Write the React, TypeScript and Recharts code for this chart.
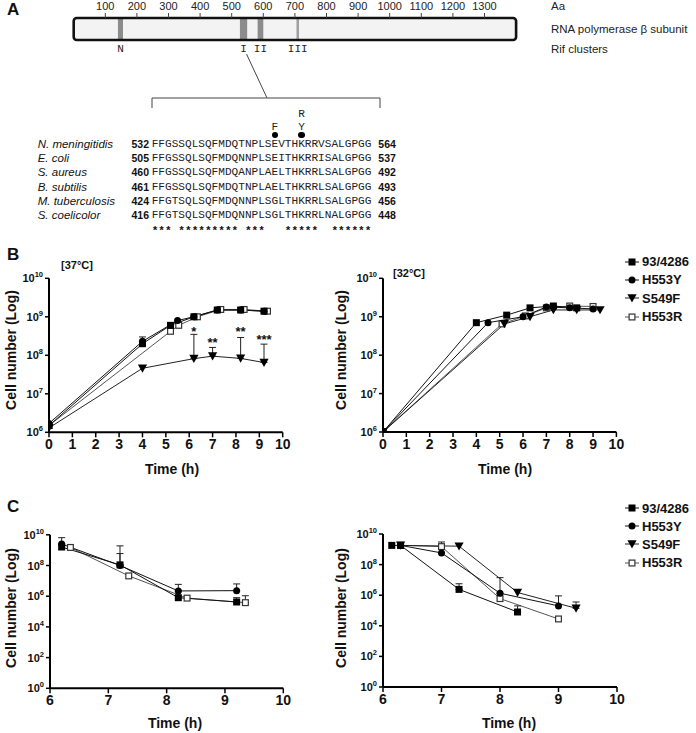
import React from 'react';
import { ComposedChart, Line, XAxis, YAxis, ErrorBar, ReferenceArea } from 'recharts';

const SANS = '"Liberation Sans", Arial, Helvetica, sans-serif';
const MONO = '"Liberation Mono", "Courier New", monospace';

// ---------- Panel A data ----------
const aaTicks = [100, 200, 300, 400, 500, 600, 700, 800, 900, 1000, 1100, 1200, 1300];
const proteinLength = 1400;
const clusterNames = ['N', 'I', 'II', 'III'];
const clusterStart = [140, 526, 582, 705];
const clusterEnd = [156, 549, 600, 713];
const clusterFill = ['#8c8c8c', '#8c8c8c', '#8c8c8c', '#a0a0a0'];

const speciesNames = ['N. meningitidis', 'E. coli', 'S. aureus', 'B. subtilis', 'M. tuberculosis', 'S. coelicolor'];
const seqStart = [532, 505, 460, 461, 424, 416];
const seqEnd = [564, 537, 492, 493, 456, 448];
const sequences = [
  'FFGSSQLSQFMDQTNPLSEVTHKRRVSALGPGG',
  'FFGSSQLSQFMDQNNPLSEITHKRRISALGPGG',
  'FFGSSQLSQFMDQANPLAELTHKRRLSALGPGG',
  'FFGSSQLSQFMDQTNPLAELTHKRRLSALGPGG',
  'FFGTSQLSQFMDQNNPLSGLTHKRRLSALGPGG',
  'FFGTSQLSQFMDQNNPLSGLTHKRRLNALGPGG',
];
const conservation = '*** ********* ***   *****  ******';
const mutationColumns = [18, 22];
const mutationLetters = [['F'], ['R', 'Y']];

// ---------- Panel B / C data ----------
const strains = ['93/4286', 'H553Y', 'S549F', 'H553R'];
type Shape = 'square' | 'circle' | 'triangle' | 'open';
const strainShapes: Shape[] = ['square', 'circle', 'triangle', 'open'];
const strainLine = ['#111', '#111', '#222', '#555'];

// B, 37°C
const b37Time93 = [0, 4, 5.2, 6.2, 7.2, 8.2, 9.2];
const b37Val93 = [1.5e6, 2e8, 6e8, 1e9, 1.5e9, 1.5e9, 1.4e9];
const b37TimeY = [0, 4, 5.5, 6.2, 7.2, 8.2, 9.2];
const b37ValY = [1.7e6, 2.3e8, 8e8, 1e9, 1.5e9, 1.5e9, 1.4e9];
const b37HiY = [null, 3e8, null, null, null, null, null];
const b37TimeF = [0, 4, 6.2, 7, 8.2, 9.2];
const b37ValF = [1.3e6, 4.6e7, 8.2e7, 9.5e7, 8.3e7, 6.5e7];
const b37HiF = [null, null, 3.5e8, 1.6e8, 2.9e8, 1.95e8];
const b37TimeR = [0, 5.2, 5.55, 6.35, 7.35, 8.35, 9.35];
const b37ValR = [1.5e6, 4.2e8, 6e8, 1e9, 1.55e9, 1.55e9, 1.4e9];
const b37SigTime = [6.2, 7, 8.2, 9.2];
const b37SigVal = [4.8e8, 2.5e8, 4.8e8, 3e8];
const b37SigText = ['*', '**', '**', '***'];

// B, 32°C
const b32Time93 = [0, 4, 5.3, 6.3, 7.3, 8.3];
const b32Val93 = [1e6, 7e8, 1.1e9, 1.7e9, 1.9e9, 1.7e9];
const b32TimeY = [0, 4.5, 6.0, 7.0, 8.0, 9.0];
const b32ValY = [1e6, 7e8, 1e9, 1.8e9, 1.7e9, 1.6e9];
const b32TimeF = [0, 5.2, 6.3, 7.3, 8.3, 9.3];
const b32ValF = [1e6, 6.5e8, 1e9, 1.5e9, 1.5e9, 1.5e9];
const b32TimeR = [0, 5.1, 6.1, 7.0, 8.0, 9.0];
const b32ValR = [1e6, 6.5e8, 1.05e9, 1.7e9, 1.9e9, 1.85e9];

// C, left
const c1Time93 = [6.2, 7.2, 8.2, 9.2];
const c1Val93 = [1.6e9, 1.1e8, 8e5, 4.2e5];
const c1Hi93 = [null, 6e8, null, 8e5];
const c1TimeY = [6.2, 7.2, 8.2, 9.2];
const c1ValY = [2.5e9, 1e8, 2.2e6, 2.3e6];
const c1HiY = [6.5e9, 1.9e9, 5.9e6, 6.3e6];
const c1TimeR = [6.35, 7.35, 8.35, 9.35];
const c1ValR = [1.5e9, 2.1e7, 7.5e5, 3.8e5];
const c1HiR = [null, null, null, 1.07e6];

// C, right
const c2Time93 = [6.15, 6.3, 7.3, 8.3];
const c2Val93 = [1.8e9, 1.8e9, 2.4e6, 8e4];
const c2Hi93 = [null, null, 5.6e6, 2e5];
const c2TimeY = [6.3, 7.0, 8.0, 9.0];
const c2ValY = [1.8e9, 5.8e8, 1.35e6, 2e5];
const c2HiY = [null, null, 1.4e7, 9e5];
const c2TimeF = [6.3, 7.3, 8.3, 9.3];
const c2ValF = [1.8e9, 1.6e9, 1.5e6, 1.4e5];
const c2HiF = [null, null, null, 3.6e5];
const c2TimeR = [6.3, 7.0, 8.0, 9.0];
const c2ValR = [1.8e9, 1.5e9, 6e5, 2.8e4];
const c2HiR = [null, 3e9, null, null];

const growthTicksX = [0, 1, 2, 3, 4, 5, 6, 7, 8, 9, 10];
const growthTicksY = [1e6, 1e7, 1e8, 1e9, 1e10];
const killTicksX = [6, 7, 8, 9, 10];
const killTicksY = [1, 1e2, 1e4, 1e6, 1e8, 1e10];

type Row = { x: number; y: number; err?: [number, number] };
const rows = (t: number[], v: number[], hi?: (number | null)[]): Row[] =>
  t.map((x, i) => {
    const h = hi ? hi[i] : null;
    return h != null ? { x, y: v[i], err: [0, h - v[i]] as [number, number] } : { x, y: v[i] };
  });

// ---------- drawing helpers ----------
function Marker({ shape, cx, cy }: { shape: Shape; cx: number; cy: number }) {
  const s = 7;
  const h = s / 2;
  if (shape === 'square') return <rect x={cx - h} y={cy - h} width={s} height={s} fill="#000" />;
  if (shape === 'circle') return <circle cx={cx} cy={cy} r={h} fill="#000" />;
  if (shape === 'triangle')
    return <polygon points={`${cx - 4.6},${cy - 3.8} ${cx + 4.6},${cy - 3.8} ${cx},${cy + 4.4}`} fill="#000" />;
  return <rect x={cx - h + 0.6} y={cy - h + 0.6} width={s - 1.2} height={s - 1.2} fill="#fff" stroke="#333" strokeWidth={1.2} />;
}

const dotFor = (shape: Shape) => (p: any) => {
  if (p.cx == null || p.cy == null) return <g key={`d${p.index}`} />;
  return (
    <g key={`d${p.index}`}>
      <Marker shape={shape} cx={p.cx} cy={p.cy} />
    </g>
  );
};

const starDot = (p: any) => {
  if (p.cx == null || p.cy == null) return <g key={`s${p.index}`} />;
  return (
    <text key={`s${p.index}`} x={p.cx} y={p.cy + 7} textAnchor="middle" fontFamily={SANS} fontWeight="bold" fontSize={13} fill="#111">
      {p.payload.label}
    </text>
  );
};

const XTick = (props: any) => (
  <text x={props.x} y={props.y} dy={10} textAnchor="middle" fontFamily={SANS} fontWeight="bold" fontSize={14} fill="#111">
    {props.payload.value}
  </text>
);

const YTick = (props: any) => {
  const e = Math.round(Math.log10(props.payload.value));
  return (
    <text x={props.x} y={props.y} dy={4} textAnchor="end" fontFamily={SANS} fontWeight="bold" fontSize={11} fill="#111">
      10<tspan dy={-5} fontSize={7.5}>{e}</tspan>
    </text>
  );
};

type SeriesDef = { idx: number; data: Row[] };

function LogPanel(props: {
  left: number; top: number; width: number; height: number;
  margin: { top: number; right: number; bottom: number; left: number };
  xDomain: [number, number]; xTicks: number[]; yDomain: [number, number]; yTicks: number[];
  series: SeriesDef[]; stars?: { x: number; y: number; label: string }[];
}) {
  const { left, top, width, height, margin, xDomain, xTicks, yDomain, yTicks, series, stars } = props;
  return (
    <div style={{ position: 'absolute', left, top }}>
      <ComposedChart width={width} height={height} margin={margin}>
        <XAxis
          type="number" dataKey="x" domain={xDomain} ticks={xTicks} interval={0} allowDataOverflow
          axisLine={{ stroke: '#000', strokeWidth: 2 }} tickLine={{ stroke: '#000', strokeWidth: 1.5 }}
          tickSize={5} tickMargin={2} height={30} tick={XTick}
        />
        <YAxis
          type="number" scale="log" domain={yDomain} ticks={yTicks} interval={0} allowDataOverflow
          axisLine={{ stroke: '#000', strokeWidth: 2 }} tickLine={{ stroke: '#000', strokeWidth: 1.5 }}
          tickSize={4} tickMargin={2} width={49} tick={YTick}
        />
        {series.map((s) => (
          <Line
            key={strains[s.idx]} name={strains[s.idx]} data={s.data} dataKey="y" type="linear"
            stroke={strainLine[s.idx]} strokeWidth={1} dot={dotFor(strainShapes[s.idx])}
            activeDot={false} isAnimationActive={false}
          >
            <ErrorBar dataKey="err" direction="y" width={3.5} stroke="#222" strokeWidth={1} />
          </Line>
        ))}
        {stars ? (
          <Line data={stars} dataKey="y" stroke="none" dot={starDot} activeDot={false} isAnimationActive={false} legendType="none" />
        ) : null}
      </ComposedChart>
    </div>
  );
}

function StrainLegend({ left, top, rowH }: { left: number; top: number; rowH: number }) {
  return (
    <div style={{ position: 'absolute', left, top }}>
      {strains.map((n, i) => (
        <div key={n} style={{ display: 'flex', alignItems: 'center', height: rowH }}>
          <svg width={14} height={10} style={{ display: 'block' }}>
            <line x1={0} x2={14} y1={5} y2={5} stroke={strainLine[i]} strokeWidth={1} />
            <Marker shape={strainShapes[i]} cx={7} cy={5} />
          </svg>
          <span style={{ marginLeft: 3, font: `bold 13px ${SANS}`, color: '#111', whiteSpace: 'nowrap' }}>{n}</span>
        </div>
      ))}
    </div>
  );
}

function YTitle({ cx, cy }: { cx: number; cy: number }) {
  return (
    <div
      style={{
        position: 'absolute', left: cx - 100, top: cy - 10, width: 200, height: 20, lineHeight: '20px',
        textAlign: 'center', transform: 'rotate(-90deg)', font: `bold 14px ${SANS}`, color: '#111',
      }}
    >
      Cell number (Log)
    </div>
  );
}

function XTitle({ cx, cy }: { cx: number; cy: number }) {
  return (
    <div
      style={{
        position: 'absolute', left: cx - 60, top: cy - 10, width: 120, height: 20, lineHeight: '20px',
        textAlign: 'center', font: `bold 14px ${SANS}`, color: '#111',
      }}
    >
      Time (h)
    </div>
  );
}

function PanelLetter({ letter, left, top }: { letter: string; left: number; top: number }) {
  return <div style={{ position: 'absolute', left, top, font: `bold 17px ${SANS}`, color: '#111', lineHeight: '18px' }}>{letter}</div>;
}

export default function App() {
  const clusterData = clusterNames.map((n, i) => ({ x: (clusterStart[i] + clusterEnd[i]) / 2, y: 0.5, name: n }));

  const ROW0 = 145;
  const ROWH = 14.2;
  const SEQ_LEFT = 151.7;
  const SEQ_FONT = `11.1px ${MONO}`;
  const MARK_BOTTOM = 126; // centre of the lowest mutation letter
  const MARK_STEP = 13;

  return (
    <div style={{ position: 'absolute', left: 0, top: 0, width: 696, height: 733, background: '#fff', overflow: 'hidden' }}>
      {/* ---------- Panel A ---------- */}
      <PanelLetter letter="A" left={7} top={1} />
      <div style={{ position: 'absolute', left: 0, top: 0 }}>
        <ComposedChart width={530} height={62} margin={{ top: 0, right: 13.9, bottom: 22, left: 73.7 }} data={clusterData}>
          <XAxis
            type="number" dataKey="x" orientation="top" domain={[0, proteinLength]} ticks={aaTicks} interval={0}
            axisLine={false} tickLine={{ stroke: '#444' }} tickSize={5} tickMargin={3} height={18}
            tick={{ fontSize: 11, fill: '#222', fontFamily: SANS }}
          />
          <YAxis type="number" dataKey="y" domain={[0, 1]} hide />
          <ReferenceArea x1={0} x2={proteinLength} y1={0} y2={1} fill="#f3f3f3" fillOpacity={1} stroke="none" ifOverflow="visible" />
          {clusterNames.map((n, i) => (
            <ReferenceArea
              key={n} x1={clusterStart[i]} x2={clusterEnd[i]} y1={0} y2={1} fill={clusterFill[i]} fillOpacity={1} stroke="none"
              ifOverflow="visible"
              label={{ value: n, position: 'bottom', offset: 4, fontFamily: MONO, fontSize: 11, fill: '#222' }}
            />
          ))}
          <ReferenceArea x1={0} x2={proteinLength} y1={0} y2={1} fill="none" fillOpacity={0} stroke="#111" strokeWidth={2.6} radius={3} ifOverflow="visible" />
          <Line dataKey="y" stroke="none" dot={false} activeDot={false} isAnimationActive={false} legendType="none" />
        </ComposedChart>
      </div>
      <div style={{ position: 'absolute', left: 551, top: 0, font: `11.5px ${SANS}`, color: '#222', lineHeight: '14px' }}>
        <div style={{ position: 'absolute', top: -1, whiteSpace: 'nowrap' }}>Aa</div>
        <div style={{ position: 'absolute', top: 22, whiteSpace: 'nowrap' }}>RNA polymerase β subunit</div>
        <div style={{ position: 'absolute', top: 42, whiteSpace: 'nowrap' }}>Rif clusters</div>
      </div>
      <svg width={696} height={120} style={{ position: 'absolute', left: 0, top: 0, pointerEvents: 'none' }}>
        <line x1={246.5} y1={54} x2={267} y2={98} stroke="#444" strokeWidth={1} />
        <polyline points="152,108 152,98 380,98 380,108" fill="none" stroke="#444" strokeWidth={1} />
      </svg>

      {/* mutation marks, aligned to sequence columns */}
      <div style={{ position: 'absolute', left: SEQ_LEFT, top: 0, font: SEQ_FONT }}>
        {mutationColumns.map((col, k) =>
          mutationLetters[k].map((letter, j) => {
            const fromBottom = mutationLetters[k].length - 1 - j;
            return (
              <div
                key={`m${k}-${j}`}
                style={{
                  position: 'absolute', left: `${col}ch`, top: MARK_BOTTOM - fromBottom * MARK_STEP - 5, height: 10,
                  lineHeight: '10px', font: SEQ_FONT, width: '1ch', textAlign: 'center', color: '#222',
                }}
              >
                {letter}
              </div>
            );
          })
        )}
        {mutationColumns.map((col) => (
          <div
            key={`dot${col}`}
            style={{ position: 'absolute', left: `${col + 0.5}ch`, marginLeft: -3.3, top: 135 - 3.3, width: 6.6, height: 6.6, borderRadius: '50%', background: '#000' }}
          />
        ))}
      </div>

      {/* alignment */}
      {speciesNames.map((sp, i) => (
        <div key={sp} style={{ position: 'absolute', left: 0, top: ROW0 + i * ROWH - 7, height: 14, lineHeight: '14px', width: 420 }}>
          <span style={{ position: 'absolute', left: 37.7, font: `italic 11.5px ${SANS}`, color: '#111', whiteSpace: 'nowrap' }}>{sp}</span>
          <span style={{ position: 'absolute', left: 131.5, font: `bold 10.5px ${SANS}`, color: '#111' }}>{seqStart[i]}</span>
          <span style={{ position: 'absolute', left: SEQ_LEFT, font: SEQ_FONT, color: '#222', whiteSpace: 'pre' }}>{sequences[i]}</span>
          <span style={{ position: 'absolute', left: 378.3, font: `bold 10.5px ${SANS}`, color: '#111' }}>{seqEnd[i]}</span>
        </div>
      ))}
      <div style={{ position: 'absolute', left: SEQ_LEFT, top: ROW0 + 6 * ROWH - 7 + 2, height: 14, lineHeight: '14px', font: `bold ${SEQ_FONT}`, color: '#111', whiteSpace: 'pre' }}>
        {conservation}
      </div>

      {/* ---------- Panel B ---------- */}
      <PanelLetter letter="B" left={7} top={246} />
      <LogPanel
        left={0} top={260} width={300} height={210}
        margin={{ top: 18.3, right: 17.3, bottom: 7.7, left: 0 }}
        xDomain={[0, 10]} xTicks={growthTicksX} yDomain={[1e6, 1e10]} yTicks={growthTicksY}
        series={[
          { idx: 3, data: rows(b37TimeR, b37ValR) },
          { idx: 2, data: rows(b37TimeF, b37ValF, b37HiF) },
          { idx: 1, data: rows(b37TimeY, b37ValY, b37HiY) },
          { idx: 0, data: rows(b37Time93, b37Val93) },
        ]}
        stars={b37SigTime.map((x, i) => ({ x, y: b37SigVal[i], label: b37SigText[i] }))}
      />
      <div style={{ position: 'absolute', left: 61, top: 258, font: `bold 11px ${SANS}`, color: '#111', lineHeight: '14px' }}>[37°C]</div>
      <YTitle cx={13} cy={350} />
      <XTitle cx={172} cy={471} />

      <LogPanel
        left={334.3} top={260} width={292.4} height={210}
        margin={{ top: 18.3, right: 10, bottom: 8, left: 0 }}
        xDomain={[0, 10]} xTicks={growthTicksX} yDomain={[1e6, 1e10]} yTicks={growthTicksY}
        series={[
          { idx: 3, data: rows(b32TimeR, b32ValR) },
          { idx: 2, data: rows(b32TimeF, b32ValF) },
          { idx: 1, data: rows(b32TimeY, b32ValY) },
          { idx: 0, data: rows(b32Time93, b32Val93) },
        ]}
      />
      <div style={{ position: 'absolute', left: 393, top: 266, font: `bold 11px ${SANS}`, color: '#111', lineHeight: '14px' }}>[32°C]</div>
      <YTitle cx={343} cy={350} />
      <XTitle cx={505} cy={471} />
      <StrainLegend left={625} top={252.5} rowH={18.3} />

      {/* ---------- Panel C ---------- */}
      <PanelLetter letter="C" left={7} top={498} />
      <LogPanel
        left={1} top={515} width={300} height={210}
        margin={{ top: 19.8, right: 17.7, bottom: 6.7, left: 0 }}
        xDomain={[6, 10]} xTicks={killTicksX} yDomain={[1, 1e10]} yTicks={killTicksY}
        series={[
          { idx: 3, data: rows(c1TimeR, c1ValR, c1HiR) },
          { idx: 1, data: rows(c1TimeY, c1ValY, c1HiY) },
          { idx: 0, data: rows(c1Time93, c1Val93, c1Hi93) },
        ]}
      />
      <YTitle cx={13} cy={608} />
      <XTitle cx={175} cy={725} />

      <LogPanel
        left={334.3} top={515} width={293} height={210}
        margin={{ top: 19, right: 10, bottom: 8, left: 0 }}
        xDomain={[6, 10]} xTicks={killTicksX} yDomain={[1, 1e10]} yTicks={killTicksY}
        series={[
          { idx: 3, data: rows(c2TimeR, c2ValR, c2HiR) },
          { idx: 2, data: rows(c2TimeF, c2ValF, c2HiF) },
          { idx: 1, data: rows(c2TimeY, c2ValY, c2HiY) },
          { idx: 0, data: rows(c2Time93, c2Val93, c2Hi93) },
        ]}
      />
      <YTitle cx={343} cy={608} />
      <XTitle cx={509} cy={725} />
      <StrainLegend left={625} top={499.2} rowH={18.1} />
    </div>
  );
}
